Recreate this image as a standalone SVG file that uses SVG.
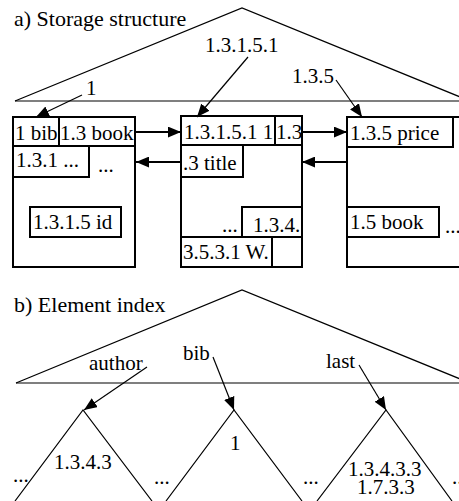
<svg xmlns="http://www.w3.org/2000/svg" width="459" height="501" viewBox="0 0 459 501" font-family="Liberation Serif, serif" font-size="21">
<style>
text{font-family:'Liberation Serif',serif;font-size:21px;fill:#000}
.head{font-size:22px}
.thin{fill:none;stroke:#000;stroke-width:1.2}
.box{fill:#fff;stroke:#000;stroke-width:2}
.arr{fill:none;stroke:#000;stroke-width:2;marker-end:url(#ah)}
.ptr{fill:none;stroke:#000;stroke-width:1.2;marker-end:url(#ah)}
</style>
<defs>
<marker id="ah" viewBox="0 0 12 10" refX="12" refY="5" markerWidth="13" markerHeight="11" markerUnits="userSpaceOnUse" orient="auto">
<path d="M0,0 L12,5 L0,10 Z" fill="#000"/>
</marker>
</defs>
<rect width="459" height="501" fill="#fff"/>

<g id="partA">
<text class="head" x="14" y="26">a) Storage structure</text>
<g id="treeA">
<polyline class="thin" points="15,101 242,8 470,101"/>
<line class="thin" x1="15" y1="101" x2="459" y2="101"/>
</g>
<g id="page1">
<rect class="box" x="13" y="117" width="122" height="150"/>
<rect class="box" x="13" y="117" width="46" height="29"/>
<rect class="box" x="59" y="117" width="76" height="29"/>
<rect class="box" x="13" y="146" width="76" height="31"/>
<rect class="box" x="30" y="207" width="91" height="30"/>
<text x="15" y="140">1 bib</text>
<text x="60" y="140">1.3 book</text>
<text x="16" y="167">1.3.1 ...</text>
<text x="98" y="172">...</text>
<text x="33" y="229">1.3.1.5 id</text>
</g>
<g id="page2">
<rect class="box" x="181" y="116" width="121" height="151"/>
<rect class="box" x="181" y="116" width="94" height="29"/>
<rect class="box" x="275" y="116" width="27" height="29"/>
<rect class="box" x="181" y="145" width="62" height="32"/>
<rect class="box" x="242" y="207" width="60" height="30"/>
<rect class="box" x="181" y="237" width="91" height="30"/>
<rect class="box" x="272" y="237" width="30" height="30"/>
<text x="184" y="139">1.3.1.5.1 1</text>
<text x="276" y="139">1.3</text>
<text x="183" y="170">.3 title</text>
<text x="222" y="232">...</text>
<text x="253" y="232">1.3.4.</text>
<text x="183" y="259">3.5.3.1 W.</text>
</g>
<g id="page3">
<rect class="box" x="347" y="117" width="130" height="150"/>
<rect class="box" x="347" y="117" width="106" height="30"/>
<rect class="box" x="347" y="207" width="92" height="30"/>
<text x="350" y="140">1.3.5 price</text>
<text x="350" y="229">1.5 book</text>
<text x="445" y="233">...</text>
</g>
<g id="labelsA">
<text x="86" y="95">1</text>
<text x="205" y="52">1.3.1.5.1</text>
<text x="292" y="83">1.3.5</text>
</g>
</g>

<g id="partB">
<text class="head" x="14" y="312">b) Element index</text>
<g id="treeB">
<polyline class="thin" points="16,383 242,290 470,383"/>
<line class="thin" x1="16" y1="383" x2="459" y2="383"/>
</g>
<g id="subtree1">
<polyline class="thin" points="15,501 83,410 152,501"/>
<text x="54" y="469">1.3.4.3</text>
</g>
<g id="subtree2">
<polyline class="thin" points="166,501 234,410 302,501"/>
<text x="230" y="450">1</text>
</g>
<g id="subtree3">
<polyline class="thin" points="317,501 386,410 452,501"/>
<text x="348" y="476">1.3.4.3.3</text>
<text x="357" y="494">1.7.3.3</text>
</g>
<text x="13" y="482">...</text>
<text x="154" y="484">...</text>
<text x="303" y="484">...</text>
<text x="452" y="484">...</text>
<g id="labelsB">
<text x="89" y="370">author</text>
<text x="183" y="360">bib</text>
<text x="326" y="368">last</text>
</g>
</g>

<g id="connectors">
<line class="arr" x1="135" y1="132" x2="181" y2="132"/>
<line class="arr" x1="181" y1="162" x2="136" y2="162"/>
<line class="arr" x1="302" y1="132" x2="347" y2="132"/>
<line class="arr" x1="347" y1="162" x2="302" y2="162"/>
<line class="ptr" x1="82" y1="95" x2="36" y2="117"/>
<line class="ptr" x1="248" y1="57" x2="197" y2="117"/>
<line class="ptr" x1="336" y1="80" x2="362" y2="117"/>
<line class="ptr" x1="147" y1="367" x2="84" y2="410"/>
<line class="ptr" x1="213" y1="357" x2="234" y2="410"/>
<line class="ptr" x1="359" y1="365" x2="386" y2="410"/>
</g>
</svg>
